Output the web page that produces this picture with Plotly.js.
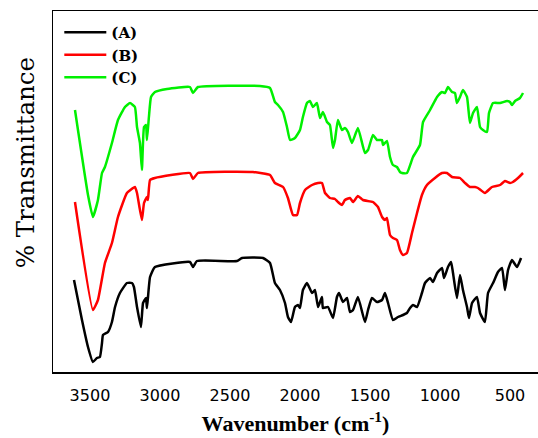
<!DOCTYPE html>
<html>
<head>
<meta charset="utf-8">
<script src="https://cdn.plot.ly/plotly-3.0.1.min.js"></script>
<style>html,body{margin:0;padding:0;background:#fff;}#chart{width:538px;height:438px;}</style>
</head>
<body>
<div id="chart"></div>
<script>
// Series names
const seriesNames = ['(A)', '(B)', '(C)'];
const seriesColors = ['#000000', '#ff0000', '#00f000'];

// (A) black
const wnA = [3614,3557,3514,3479,3450,3429,3414,3407,3371,3343,3321,3286,3236,3200,3186,3164,3136,3121,3100,3093,3071,3036,2786,2764,2736,2450,2414,2264,2214,2179,2143,2107,2086,2064,2036,2014,2000,1979,1950,1914,1893,1871,1843,1836,1800,1764,1736,1721,1693,1664,1643,1621,1586,1536,1514,1486,1450,1414,1393,1371,1336,1300,1264,1236,1214,1193,1164,1129,1107,1071,1050,1021,986,971,943,921,907,879,857,836,807,793,771,736,714,679,657,621,586,557,536,514,486,450,421];
const tA = [92,52,25,10,14,15,29,37,40,50,65,79,89,89,85,65,45,69,74,64,95,105,110,105,111,111,114,114,109,89,82,69,55,50,65,67,64,82,89,79,82,65,75,64,65,54,75,79,70,74,60,62,75,50,62,74,70,72,79,69,52,55,57,59,64,67,65,79,89,94,90,99,104,94,105,110,99,74,97,82,65,54,69,75,59,50,79,89,100,104,82,102,112,105,114];

// (B) red
const wnB = [3607,3479,3443,3393,3343,3300,3236,3179,3164,3129,3114,3093,3086,3071,3036,2786,2764,2729,2336,2214,2179,2121,2086,2050,2021,2000,1964,1914,1871,1843,1821,1786,1750,1729,1700,1679,1643,1621,1586,1550,1479,1443,1414,1393,1379,1357,1336,1307,1286,1264,1236,1200,1164,1129,1093,1036,986,950,914,857,821,786,750,729,679,629,571,536,500,479,443,407];
const tB = [170,62,72,109,129,155,179,185,179,152,169,175,172,192,194,199,193,199,200,197,189,185,174,157,157,169,182,187,189,189,179,174,173,170,167,172,174,170,176,172,170,165,155,152,154,137,134,132,122,117,119,139,159,177,187,194,199,199,195,194,189,185,185,184,179,185,187,191,189,190,194,199];

// (C) green
const wnC = [3607,3514,3479,3443,3414,3393,3343,3300,3250,3214,3179,3164,3143,3129,3114,3100,3093,3079,3064,3036,2950,2786,2764,2729,2286,2214,2179,2157,2121,2093,2071,2036,2000,1979,1950,1929,1907,1879,1857,1836,1807,1786,1764,1750,1729,1700,1679,1657,1629,1586,1536,1514,1479,1450,1414,1407,1379,1357,1336,1307,1286,1271,1236,1193,1143,1121,1071,1021,986,964,943,914,893,879,857,836,807,786,764,736,714,693,664,650,621,571,521,500,486,464,429,407];
const tC = [262,177,155,172,199,205,229,252,265,269,265,245,229,202,245,247,232,255,275,280,283,285,279,285,286,284,270,267,260,245,232,234,242,255,269,271,265,269,254,260,250,247,224,232,252,242,244,240,229,244,219,222,237,232,232,227,231,215,207,205,200,199,199,215,227,250,262,275,280,279,285,280,279,269,275,282,275,249,259,265,245,242,240,259,269,269,271,270,267,271,274,279];

// x tick labels
const tickVals = [3500, 3000, 2500, 2000, 1500, 1000, 500];
const tickText = ['3500', '3000', '2500', '2000', '1500', '1000', '500'];

const xs = [wnA, wnB, wnC];
const ys = [tA, tB, tC];

const traces = xs.map((x, i) => ({
  x: x, y: ys[i], type: 'scatter', mode: 'lines', name: seriesNames[i],
  line: {color: seriesColors[i], width: 2.5, shape: 'spline', smoothing: 0.4}
}));

const layout = {
  width: 538, height: 438,
  margin: {l: 53, r: 0, t: 11, b: 66},
  paper_bgcolor: '#ffffff', plot_bgcolor: '#ffffff',
  showlegend: true,
  legend: {
    x: 0.013, y: 0.986, xanchor: 'left', yanchor: 'top',
    bgcolor: 'rgba(0,0,0,0)', itemwidth: 42,
    font: {family: 'DejaVu Serif, serif', size: 15, color: '#000', weight: 'bold'}
  },
  xaxis: {
    range: [3764, 300], autorange: false,
    tickvals: tickVals, ticktext: tickText,
    ticks: '', showgrid: false, zeroline: false,
    showline: true, linecolor: '#000', linewidth: 1.5, mirror: true,
    ticklabelstandoff: 8,
    tickfont: {family: 'DejaVu Sans, sans-serif', size: 16, color: '#000'},
    title: {text: 'Wavenumber (cm<sup>-1</sup>)', standoff: 12,
      font: {family: 'Liberation Serif, serif', size: 22, color: '#000', weight: 'bold'}}
  },
  yaxis: {
    range: [0, 361], autorange: false,
    showticklabels: false, ticks: '', showgrid: false, zeroline: false,
    showline: true, linecolor: '#000', linewidth: 1.5, mirror: false
  },
  annotations: [{
    text: '% Transmittance', textangle: -90, showarrow: false,
    xref: 'paper', yref: 'paper', x: -0.0577, y: 0.578,
    xanchor: 'center', yanchor: 'middle',
    font: {family: 'DejaVu Serif, serif', size: 24.5, color: '#000'}
  }]
};

Plotly.newPlot('chart', traces, layout, {displayModeBar: false, staticPlot: true});
</script>
</body>
</html>
